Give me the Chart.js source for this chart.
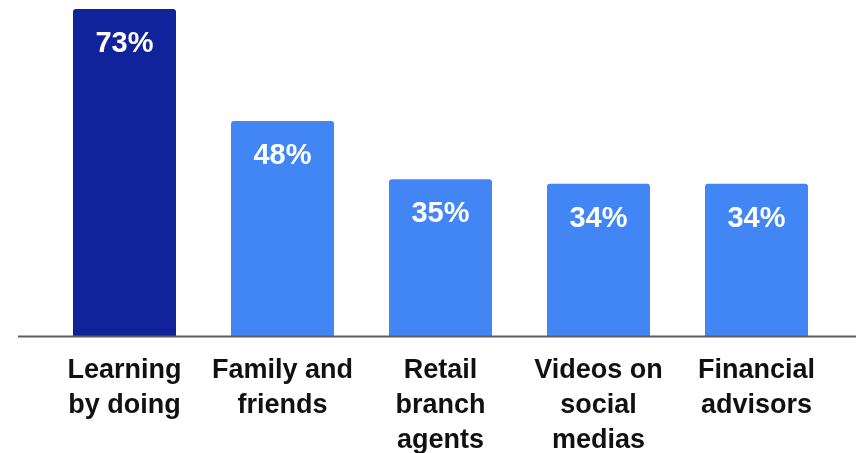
<!DOCTYPE html>
<html>
<head>
<meta charset="utf-8">
<script src="https://cdn.jsdelivr.net/npm/chart.js@4/dist/chart.umd.min.js"></script>
<style>
  html, body { margin: 0; padding: 0; background: #fff; }
  #wrap { width: 856px; height: 453px; position: relative; }
</style>
</head>
<body>
<div id="wrap"><canvas id="c"></canvas></div>
<script>
// learning sources, share of respondents (%)
var categories = [
  ["Learning", "by doing"],
  ["Family and", "friends"],
  ["Retail", "branch", "agents"],
  ["Videos on", "social", "medias"],
  ["Financial", "advisors"]
];
var values = [73, 48, 35, 34, 34];
var barColors = ["#10239A", "#4285F4", "#4285F4", "#4285F4", "#4285F4"];

var FONT = "'Liberation Sans', Arial, Helvetica, sans-serif";

// white % labels inside the top of each bar
var valueLabels = {
  id: "valueLabels",
  afterDatasetsDraw: function (chart) {
    var ctx = chart.ctx;
    var meta = chart.getDatasetMeta(0);
    ctx.save();
    ctx.fillStyle = "#ffffff";
    ctx.font = "bold 29px " + FONT;
    ctx.textAlign = "center";
    ctx.textBaseline = "middle";
    meta.data.forEach(function (bar, i) {
      ctx.fillText(values[i] + "%", bar.x, bar.y + 35);
    });
    ctx.restore();
  }
};

// baseline across the full width at zero
var baseLine = {
  id: "baseLine",
  afterDatasetsDraw: function (chart) {
    var ctx = chart.ctx;
    var y = Math.round(chart.scales.y.getPixelForValue(0)) + 0.5;
    ctx.save();
    ctx.strokeStyle = "#5f5f5f";
    ctx.lineWidth = 2;
    ctx.beginPath();
    ctx.moveTo(18, y);
    ctx.lineTo(chart.width, y);
    ctx.stroke();
    ctx.restore();
  }
};

new Chart(document.getElementById("c").getContext("2d"), {
  type: "bar",
  data: {
    labels: categories,
    datasets: [{
      data: values,
      backgroundColor: barColors,
      borderRadius: { topLeft: 3, topRight: 3 },
      borderSkipped: "bottom",
      barPercentage: 0.652,
      categoryPercentage: 1
    }]
  },
  options: {
    responsive: true,
    maintainAspectRatio: false,
    animation: false,
    layout: { padding: { left: 45.5, right: 20.5, top: 0, bottom: 0 } },
    plugins: { legend: { display: false }, tooltip: { enabled: false } },
    scales: {
      x: {
        grid: { display: false, drawTicks: false },
        border: { display: false },
        ticks: {
          color: "#111111",
          padding: 17,
          maxRotation: 0,
          autoSkip: false,
          font: { family: FONT, size: 27, weight: "bold", lineHeight: 1.3 }
        },
        afterFit: function (s) { s.height = 117; }
      },
      y: {
        display: false,
        min: 0,
        max: 75
      }
    }
  },
  plugins: [valueLabels, baseLine]
});
</script>
</body>
</html>
